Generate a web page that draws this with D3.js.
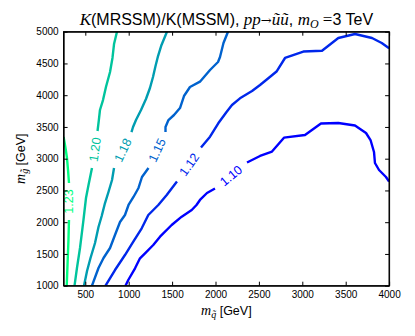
<!DOCTYPE html>
<html><head><meta charset="utf-8">
<script src="https://cdn.jsdelivr.net/npm/d3@7/dist/d3.min.js"></script>
<style>
body{margin:0;background:#fff;}
svg{display:block;}
text{font-family:"Liberation Sans",Arial,sans-serif;}
.m{font-family:"Liberation Serif","Times New Roman",serif;font-style:italic;}
</style></head>
<body>
<svg id="c" width="415" height="336"></svg>
<script>
// ---- data ----
const xTicks = [500,1000,1500,2000,2500,3000,3500,4000];
const yTicks = [1000,1500,2000,2500,3000,3500,4000,4500,5000];
const levels = [1.10,1.12,1.15,1.18,1.20,1.23];
const levelLabels = ["1.10","1.12","1.15","1.18","1.20","1.23"];

// each contour: two pieces (before / after the inline label)
const line110 = [
  [[4000,2638],[3964,2712],[3884,2822],[3837,2932],[3826,3106],[3786,3294],[3734,3405],[3607,3523],[3415,3562],[3215,3554],[3031,3373],[2789,3331],[2651,3113],[2513,3043],[2363,2940]],
  [[1994,2531],[1902,2460],[1821,2350],[1781,2271],[1726,2192],[1611,2087],[1495,1956],[1361,1772],[1283,1641],[1188,1510],[1130,1431],[1073,1274],[995,1090],[963,1000]]
];
const line112 = [
  [[4000,4739],[3915,4822],[3803,4901],[3607,4964],[3415,4901],[3227,4701],[3012,4688],[2801,4586],[2703,4373],[2605,4263],[2513,4161],[2421,4066],[2282,3951],[2190,3846],[2127,3735],[2032,3557],[1937,3346],[1833,3176]],
  [[1556,2641],[1499,2539],[1438,2428],[1341,2271],[1226,2113],[1150,1904],[1053,1693],[957,1483],[842,1247],[733,1000]]
];
const line115 = [
  [[2144,5000],[2092,4822],[2052,4602],[2029,4523],[1937,4397],[1821,4213],[1706,4129],[1637,3987],[1591,3798],[1522,3688],[1458,3609],[1424,3499],[1424,3420]],
  [[1228,2854],[1153,2712],[1113,2539],[1055,2397],[998,2271],[957,2113],[900,2003],[842,1798],[785,1594],[710,1436],[652,1279],[577,1000]]
];
const line118 = [
  [[1441,5000],[1378,4791],[1338,4617],[1309,4460],[1280,4287],[1245,4113],[1199,3940],[1142,3767],[1084,3609],[1050,3499],[1032,3420]],
  [[831,2854],[808,2665],[767,2476],[727,2302],[689,2098],[652,1924],[612,1672],[560,1436],[520,1231],[485,1000]]
];
const line120 = [
  [[865,5000],[831,4806],[813,4586],[785,4365],[738,4129],[704,3924],[669,3767],[656,3609],[641,3436]],
  [[577,2854],[537,2586],[508,2381],[479,2035],[439,1594],[404,1279],[376,1000]]
];
const line123 = [
  [[250,3342],[272,3168],[289,3011],[301,2822],[312,2617]],
  [[312,2035],[306,1720],[295,1326],[286,1000]]
];
const contours = [line110,line112,line115,line118,line120,line123];

// ---- layout ----
const L = 63.6, R = 389.1, T = 31.7, B = 285.7;
const svg = d3.select("#c");
const x = d3.scaleLinear().domain([250,4000]).range([L,R]);
const y = d3.scaleLinear().domain([1000,5000]).range([B,T]);

const winter = t => d3.rgb(0, Math.round(255*t), Math.round(255*(1 - t/2))).toString();
const lmin = d3.min(levels), lmax = d3.max(levels);
const color = v => winter((v - lmin)/(lmax - lmin));

svg.append("clipPath").attr("id","pc").append("rect")
  .attr("x",L).attr("y",T).attr("width",R-L).attr("height",B-T);

const gLines = svg.append("g").attr("clip-path","url(#pc)");
const line = d3.line().x(d=>x(d[0])).y(d=>y(d[1]));

contours.forEach((segs,i)=>{
  const col = color(levels[i]);
  segs.forEach(s=>{
    gLines.append("path").attr("d",line(s)).attr("fill","none")
      .attr("stroke",col).attr("stroke-width",2.4)
      .attr("stroke-linejoin","round").attr("stroke-linecap","butt");
  });
  const a = segs[0][segs[0].length-1], b = segs[1][0];
  const ax = x(a[0]), ay = y(a[1]), bx = x(b[0]), by = y(b[1]);
  let ang = Math.atan2(by-ay, bx-ax)*180/Math.PI;
  if (ang > 89) ang -= 180;
  if (ang < -90) ang += 180;
  const cx = (ax+bx)/2, cy = (ay+by)/2;
  svg.append("text").attr("transform",`translate(${cx},${cy}) rotate(${ang})`)
    .attr("text-anchor","middle").attr("dy","0.36em")
    .attr("font-size",12.5).attr("fill",col).text(levelLabels[i]);
});

// ---- axes ----
const fmt = d3.format("d");
const ax1 = svg.append("g").attr("transform",`translate(0,${B})`)
  .call(d3.axisBottom(x).tickValues(xTicks).tickFormat(fmt).tickSizeInner(-4).tickSizeOuter(0).tickPadding(5));
const ax2 = svg.append("g").attr("transform",`translate(0,${T})`)
  .call(d3.axisTop(x).tickValues(xTicks).tickFormat("").tickSizeInner(-4).tickSizeOuter(0));
const ay1 = svg.append("g").attr("transform",`translate(${L},0)`)
  .call(d3.axisLeft(y).tickValues(yTicks).tickFormat(fmt).tickSizeInner(-4).tickSizeOuter(0).tickPadding(5));
const ay2 = svg.append("g").attr("transform",`translate(${R},0)`)
  .call(d3.axisRight(y).tickValues(yTicks).tickFormat("").tickSizeInner(-4).tickSizeOuter(0));
[ax1,ax2,ay1,ay2].forEach(g=>{
  g.selectAll("text").attr("font-size",10).attr("font-family","Liberation Sans, Arial, sans-serif").attr("fill","#000");
  g.selectAll("line").attr("stroke","#000");
  g.select(".domain").attr("stroke","#000").attr("stroke-width",1);
});

svg.append("rect").attr("x",L).attr("y",T).attr("width",R-L).attr("height",B-T)
  .attr("fill","none").attr("stroke","#000").attr("stroke-width",1.2);

// ---- titles ----
const title = svg.append("text").attr("x",(L+R)/2).attr("y",25).attr("text-anchor","middle").attr("font-size",16);
title.append("tspan").attr("class","m").attr("font-size",17).text("K");
title.append("tspan").text("(MRSSM)/K(MSSM), ");
title.append("tspan").attr("class","m").attr("font-size",17).text("pp");
title.append("tspan").attr("font-family","DejaVu Serif, serif").attr("font-size",13).text("\u2192");
title.append("tspan").attr("class","m").attr("font-size",17).text("\u0169\u0169");
title.append("tspan").text(", ");
title.append("tspan").attr("class","m").attr("font-size",17).text("m");
title.append("tspan").attr("class","m").attr("font-size",12).attr("dy",3).text("O");
title.append("tspan").attr("font-family","Liberation Serif, serif").attr("font-size",17).attr("dy",-3).text(" =");
title.append("tspan").text("3 TeV");

const xl = svg.append("text").attr("x",(L+R)/2).attr("y",315).attr("text-anchor","middle").attr("font-size",12.5);
xl.append("tspan").attr("class","m").attr("font-size",14).text("m");
xl.append("tspan").attr("class","m").attr("font-size",10).attr("dy",3).text("q\u0303");
xl.append("tspan").attr("dy",-3).text(" [GeV]");

const yl = svg.append("text").attr("transform",`translate(25,${(T+B)/2}) rotate(-90)`).attr("text-anchor","middle").attr("font-size",12.5);
yl.append("tspan").attr("class","m").attr("font-size",14).text("m");
yl.append("tspan").attr("class","m").attr("font-size",10).attr("dy",3).text("g\u0303");
yl.append("tspan").attr("dy",-3).text(" [GeV]");
</script>
</body></html>
